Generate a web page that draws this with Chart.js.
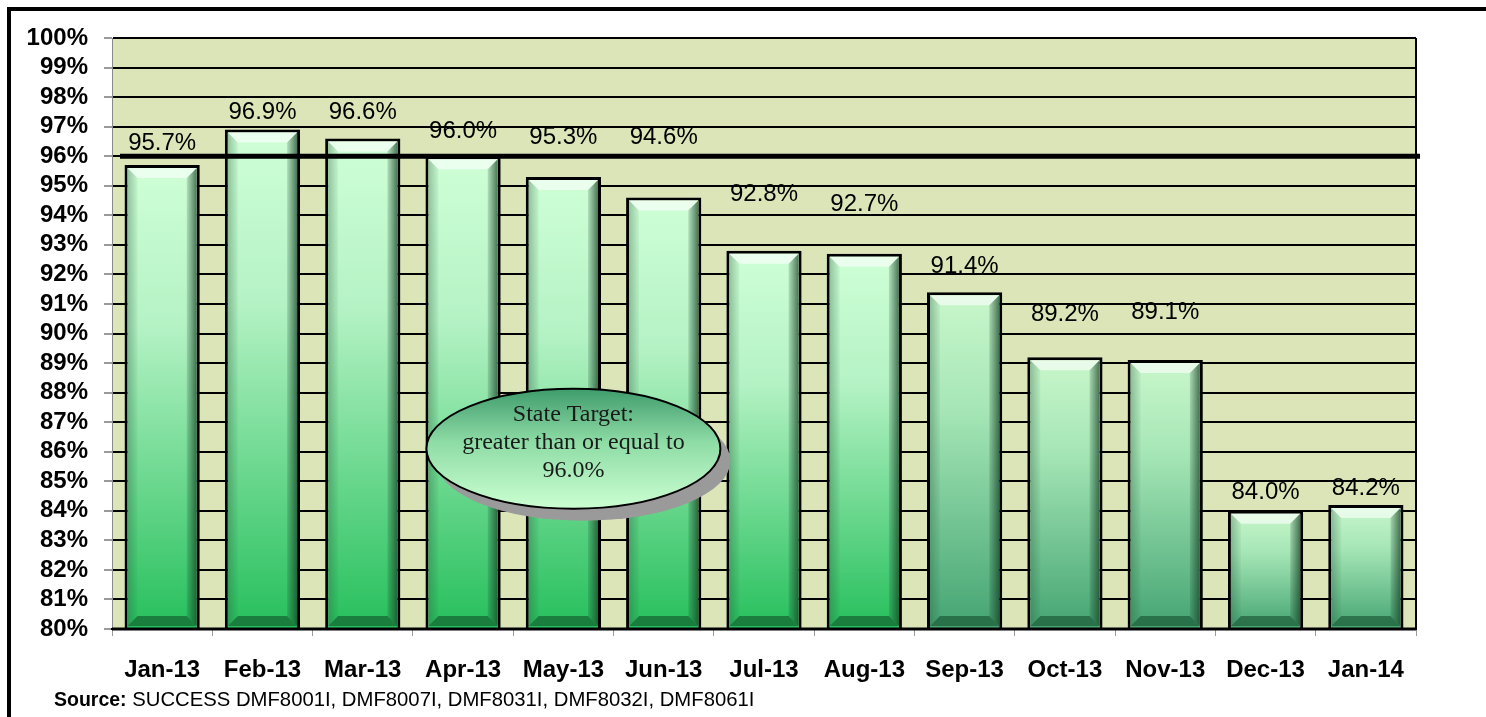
<!DOCTYPE html>
<html>
<head>
<meta charset="utf-8">
<script src="https://cdn.jsdelivr.net/npm/chart.js@4.4.1/dist/chart.umd.min.js"></script>
<style>
  html,body{margin:0;padding:0;background:#fff;}
  #wrap{width:1486px;height:717px;}
</style>
</head>
<body>
<div id="wrap"><canvas id="c" width="1486" height="717"></canvas></div>
<script>
// ===== data =====
const months = ['Jan-13','Feb-13','Mar-13','Apr-13','May-13','Jun-13','Jul-13','Aug-13','Sep-13','Oct-13','Nov-13','Dec-13','Jan-14'];
const rates = [95.7,96.9,96.6,96.0,95.3,94.6,92.8,92.7,91.4,89.2,89.1,84.0,84.2];
// where each value label sits (in % units)
const labelAt = [96.45,97.5,97.5,96.85,96.65,96.65,94.72,94.38,92.28,90.66,90.73,84.64,84.77];
const yTicks = {min:80,max:100,step:1};
const target = 96.0;
const targetNote = ['State Target:','greater than or equal to','96.0%'];
const sourceBold = 'Source:';
const sourceText = ' SUCCESS DMF8001I, DMF8007I, DMF8031I, DMF8032I, DMF8061I';

const SANS = '"Liberation Sans", Arial, sans-serif';
const SERIF = '"Liberation Serif", "Times New Roman", serif';

// ===== helpers =====
function barFill(c){
  const ch=c.chart, area=ch.chartArea;
  if(!area) return '#8fdca8';
  const y=ch.scales.y;
  const top=y.getPixelForValue(c.raw);
  const g=ch.ctx.createLinearGradient(0,top,0,area.bottom);
  const late=c.dataIndex>=8;
  g.addColorStop(0, late?'#c9f7cc':'#cfffd6');
  g.addColorStop(0.35, late?'#a6e6b6':'#b4f2c4');
  g.addColorStop(1, late?'#44a472':'#26bf5c');
  return g;
}

const frame={
  id:'frame',
  beforeDraw(ch){
    const {ctx,chartArea:a}=ch;
    ctx.save();
    ctx.fillStyle='#dbe5b8';
    ctx.fillRect(a.left,a.top,a.right-a.left,a.bottom-a.top);
    ctx.restore();
  },
  afterDraw(ch){
    const {ctx,chartArea:a}=ch;
    ctx.save();
    // plot right edge + bottom
    ctx.strokeStyle='#000';ctx.lineWidth=2;
    ctx.beginPath();ctx.moveTo(a.right,a.top);ctx.lineTo(a.right,a.bottom);ctx.stroke();
    ctx.lineWidth=3;
    ctx.beginPath();ctx.moveTo(a.left,a.bottom);ctx.lineTo(a.right,a.bottom);ctx.stroke();
    // outer box (runs off the right and bottom)
    ctx.lineWidth=4;
    ctx.strokeRect(9,9,1500,740);
    // source line
    ctx.fillStyle='#000';ctx.textBaseline='alphabetic';ctx.textAlign='left';
    ctx.font='bold 19.5px '+SANS;
    ctx.fillText(sourceBold,54,706);
    const w=ctx.measureText(sourceBold).width;
    ctx.font='20.3px '+SANS;
    ctx.fillText(sourceText,54+w,706);
    ctx.restore();
  }
};

const bevel={
  id:'bevel',
  afterDatasetsDraw(ch){
    const ctx=ch.ctx, a=ch.chartArea;
    const meta=ch.getDatasetMeta(0);
    ctx.save();
    meta.data.forEach(el=>{
      const p=el.getProps(['x','y','base','width'],true);
      const bw=3,b=10;
      const l=p.x-p.width/2+bw, r=p.x+p.width/2-bw, t=p.y+bw, bo=Math.min(p.base,a.bottom)-bw;
      // top highlight
      ctx.fillStyle='rgba(255,255,255,0.6)';
      ctx.beginPath();ctx.moveTo(l,t);ctx.lineTo(r,t);ctx.lineTo(r-b,t+b);ctx.lineTo(l+b,t+b);ctx.closePath();ctx.fill();
      // bottom shade
      ctx.fillStyle='rgba(10,60,30,0.5)';
      ctx.beginPath();ctx.moveTo(l,bo);ctx.lineTo(r,bo);ctx.lineTo(r-b,bo-b);ctx.lineTo(l+b,bo-b);ctx.closePath();ctx.fill();
      // left side
      let g=ctx.createLinearGradient(l,0,l+b,0);
      g.addColorStop(0,'rgba(40,90,60,0.35)');g.addColorStop(1,'rgba(40,90,60,0.05)');
      ctx.fillStyle=g;
      ctx.beginPath();ctx.moveTo(l,t);ctx.lineTo(l+b,t+b);ctx.lineTo(l+b,bo-b);ctx.lineTo(l,bo);ctx.closePath();ctx.fill();
      // right side
      g=ctx.createLinearGradient(r-b,0,r,0);
      g.addColorStop(0,'rgba(20,60,35,0.15)');g.addColorStop(1,'rgba(20,60,35,0.7)');
      ctx.fillStyle=g;
      ctx.beginPath();ctx.moveTo(r,t);ctx.lineTo(r-b,t+b);ctx.lineTo(r-b,bo-b);ctx.lineTo(r,bo);ctx.closePath();ctx.fill();
    });
    ctx.restore();
  },
  afterDraw(ch){
    const {ctx,chartArea:a,scales:{x,y}}=ch;
    ctx.save();
    // target line
    const ty=y.getPixelForValue(target);
    ctx.strokeStyle='#000';ctx.lineWidth=5;
    ctx.beginPath();ctx.moveTo(a.left+8,ty);ctx.lineTo(a.right+4,ty);ctx.stroke();
    // value labels
    ctx.fillStyle='#000';ctx.font='24px '+SANS;ctx.textAlign='center';ctx.textBaseline='middle';
    rates.forEach((v,i)=>{
      ctx.fillText(v.toFixed(1)+'%',x.getPixelForValue(i),y.getPixelForValue(labelAt[i]));
    });
    // target callout
    const cx=x.getPixelForValue(4.1), cy=y.getPixelForValue(86.1), rx=147, ry=60;
    ctx.fillStyle='#9a9a9a';
    ctx.beginPath();ctx.ellipse(cx+10,cy+12,rx,ry,0,0,Math.PI*2);ctx.fill();
    const g=ctx.createLinearGradient(0,cy-ry,0,cy+ry);
    g.addColorStop(0,'#3f9c6c');g.addColorStop(0.45,'#8fdca6');g.addColorStop(1,'#cbffd2');
    ctx.fillStyle=g;ctx.strokeStyle='#000';ctx.lineWidth=2;
    ctx.beginPath();ctx.ellipse(cx,cy,rx,ry,0,0,Math.PI*2);ctx.fill();ctx.stroke();
    ctx.fillStyle='#1a1a1a';ctx.font='24px '+SERIF;
    targetNote.forEach((s,i)=>ctx.fillText(s,cx,cy-34+i*28));
    ctx.restore();
  }
};

new Chart(document.getElementById('c'),{
  type:'bar',
  data:{labels:months,datasets:[{
    data:rates,
    backgroundColor:barFill,
    borderColor:'#000',
    borderWidth:3,
    borderSkipped:false,
    categoryPercentage:1,
    barPercentage:0.75
  }]},
  options:{
    responsive:false,
    animation:false,
    layout:{padding:{top:38,right:70,bottom:0,left:0}},
    plugins:{legend:{display:false},tooltip:{enabled:false},title:{display:false}},
    scales:{
      x:{
        afterFit:s=>{s.height=88;},
        grid:{drawOnChartArea:false,drawTicks:true,tickLength:7,tickColor:'#9a9a9a',offset:true},
        border:{color:'#000',width:2},
        ticks:{color:'#000',padding:20,font:{family:SANS,size:24,weight:'bold'},autoSkip:false,maxRotation:0}
      },
      y:{
        min:yTicks.min,max:yTicks.max,
        afterFit:s=>{s.width=112;},
        grid:{color:'#000',lineWidth:2,tickLength:8,tickColor:'#9a9a9a'},
        border:{color:'#8a8a8a',width:1},
        ticks:{stepSize:yTicks.step,maxTicksLimit:30,autoSkip:false,padding:16,color:'#000',
          font:{family:SANS,size:24,weight:'bold'},callback:v=>v+'%'}
      }
    }
  },
  plugins:[frame,bevel]
});
</script>
</body>
</html>
